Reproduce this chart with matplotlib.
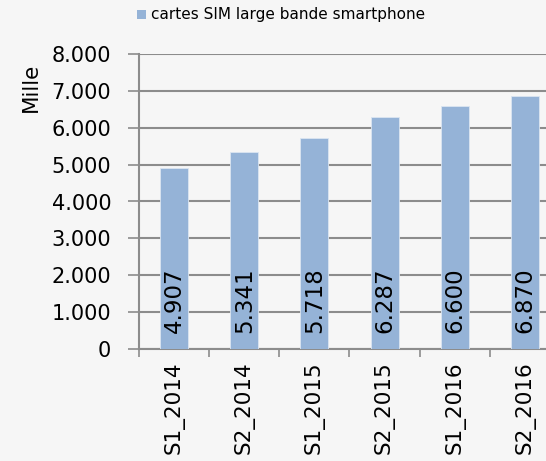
import numpy as np
import matplotlib.pyplot as plt

categories = ['S1_2014', 'S2_2014', 'S1_2015', 'S2_2015', 'S1_2016', 'S2_2016']
values = [4907, 5341, 5718, 6287, 6600, 6870]
labels = ['4.907', '5.341', '5.718', '6.287', '6.600', '6.870']
yticks = [0, 1000, 2000, 3000, 4000, 5000, 6000, 7000, 8000]
ytick_labels = ['0', '1.000', '2.000', '3.000', '4.000', '5.000', '6.000', '7.000', '8.000']
series_name = 'cartes SIM large bande smartphone'

plt.rcParams['font.family'] = ['DejaVu Sans']
bg = '#f6f6f6'
fig = plt.figure(figsize=(5.46, 4.61), dpi=100, facecolor=bg)
# the plot area runs past the right edge of the picture, as in the source
ax = fig.add_axes([139/546, 1-349/461, 421/546, 295/461], facecolor=bg)

x = np.arange(len(categories))
ax.bar(x, values, width=0.4, color='#95b3d7', edgecolor='#dbe5f1', linewidth=0.6, zorder=3)
for xi, lab in zip(x, labels):
    ax.text(xi, 430, lab, rotation=90, ha='center', va='bottom', fontsize=16.5, color='black', zorder=4)

ax.set_xlim(-0.5, len(categories) - 0.5)
ax.set_ylim(0, 8000)
ax.set_yticks(yticks)
ax.set_yticklabels(ytick_labels, fontsize=15)
ax.set_xticks(x)
ax.set_xticklabels(categories, rotation=90, fontsize=15.5)
ax.tick_params(axis='x', length=0, pad=9)
ax.set_xticks(np.arange(-0.5, len(categories)), minor=True)
ax.tick_params(axis='x', which='minor', length=6, width=1.2, color='#8c8c8c', direction='out')
ax.tick_params(axis='y', length=8, width=1.2, color='#8c8c8c', pad=12)
ax.yaxis.grid(True, color='#8c8c8c', linewidth=1.5, zorder=0)
for s in ['top', 'right']:
    ax.spines[s].set_visible(False)
for s in ['left', 'bottom']:
    ax.spines[s].set_color('#8c8c8c')
    ax.spines[s].set_linewidth(1.5)

fig.text(31/546, 1-87/461, 'Mille', rotation=90, ha='center', va='center', fontsize=15.5)
fig.patches.append(plt.Rectangle((137/546, 1-19/461), 9/546, 9/461, transform=fig.transFigure,
                                 facecolor='#95b3d7', edgecolor='none'))
fig.text(151/546, 1-14/461, series_name, ha='left', va='center', fontsize=11)

fig.savefig('out.png', dpi=100, facecolor=bg)
